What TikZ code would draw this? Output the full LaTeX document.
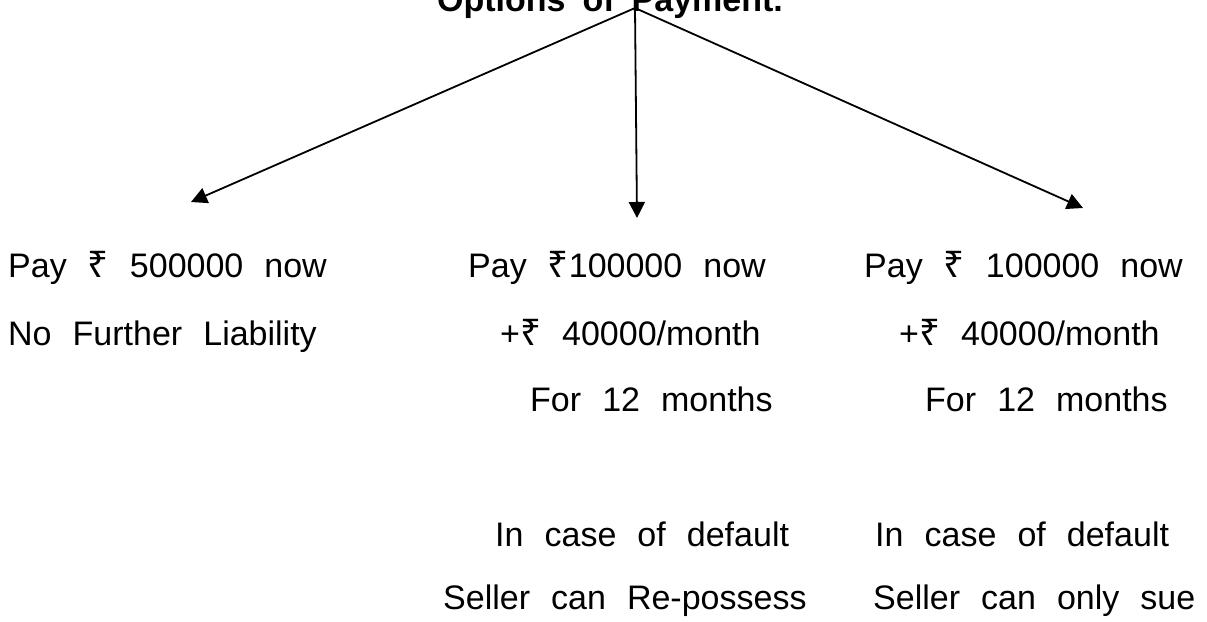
\documentclass[tikz,border=0pt]{standalone}
\usepackage{fontspec}
\setmainfont{Liberation Sans}
\newfontfamily\rupeefont[Scale=1.08]{Noto Sans}
\usetikzlibrary{arrows.meta}
\newcommand{\Rs}{{\rupeefont ₹}}
\newcommand{\widesp}[1]{\spaceskip=#1em\relax}

\tikzset{
  conn/.style={line width=1.8pt, -{Triangle[length=16pt,width=16pt]}},
  body/.style={anchor=base west, inner sep=0pt,
    font=\fontsize{34}{40}\selectfont\widesp{0.62}},
  heading/.style={anchor=base, inner sep=0pt,
    font=\bfseries\fontsize{34}{40}\selectfont\widesp{0.5}}
}

\begin{document}
\begin{tikzpicture}[x=1pt,y=-1pt]
  \useasboundingbox (0,0) rectangle (1207,621);

  % heading and the point where the branches start
  \node[heading] (title) at (610,11) {Options of Payment.};
  \coordinate (apex) at (635,8);

  % ends of the three branches
  \coordinate (tipL) at (191,202);
  \coordinate (tipM) at (637,218);
  \coordinate (tipR) at (1083,208);

  \draw[conn] (apex) -- (tipL);
  \draw[conn] (apex) -- (tipM);
  \draw[conn] (apex) -- (tipR);

  % first option
  \node[body] (a1) at (8,277)  {Pay \Rs{} 500000 now};
  \node[body] (a2) at (8,345)  {No Further Liability};

  % second option
  \node[body] (b1) at (468,277) {Pay \Rs100000 now};
  \node[body] (b2) at (500,345) {+\Rs{} 40000/month};
  \node[body] (b3) at (530,411) {For 12 months};
  \node[body] (b4) at (495,546) {In case of default};
  \node[body] (b5) at (443,609) {Seller can Re-possess};

  % third option
  \node[body] (c1) at (864,277) {Pay \Rs{} 100000 now};
  \node[body] (c2) at (899,345) {+\Rs{} 40000/month};
  \node[body] (c3) at (925,411) {For 12 months};
  \node[body] (c4) at (875,546) {In case of default};
  \node[body] (c5) at (873,609) {Seller can only sue};
\end{tikzpicture}
\end{document}
